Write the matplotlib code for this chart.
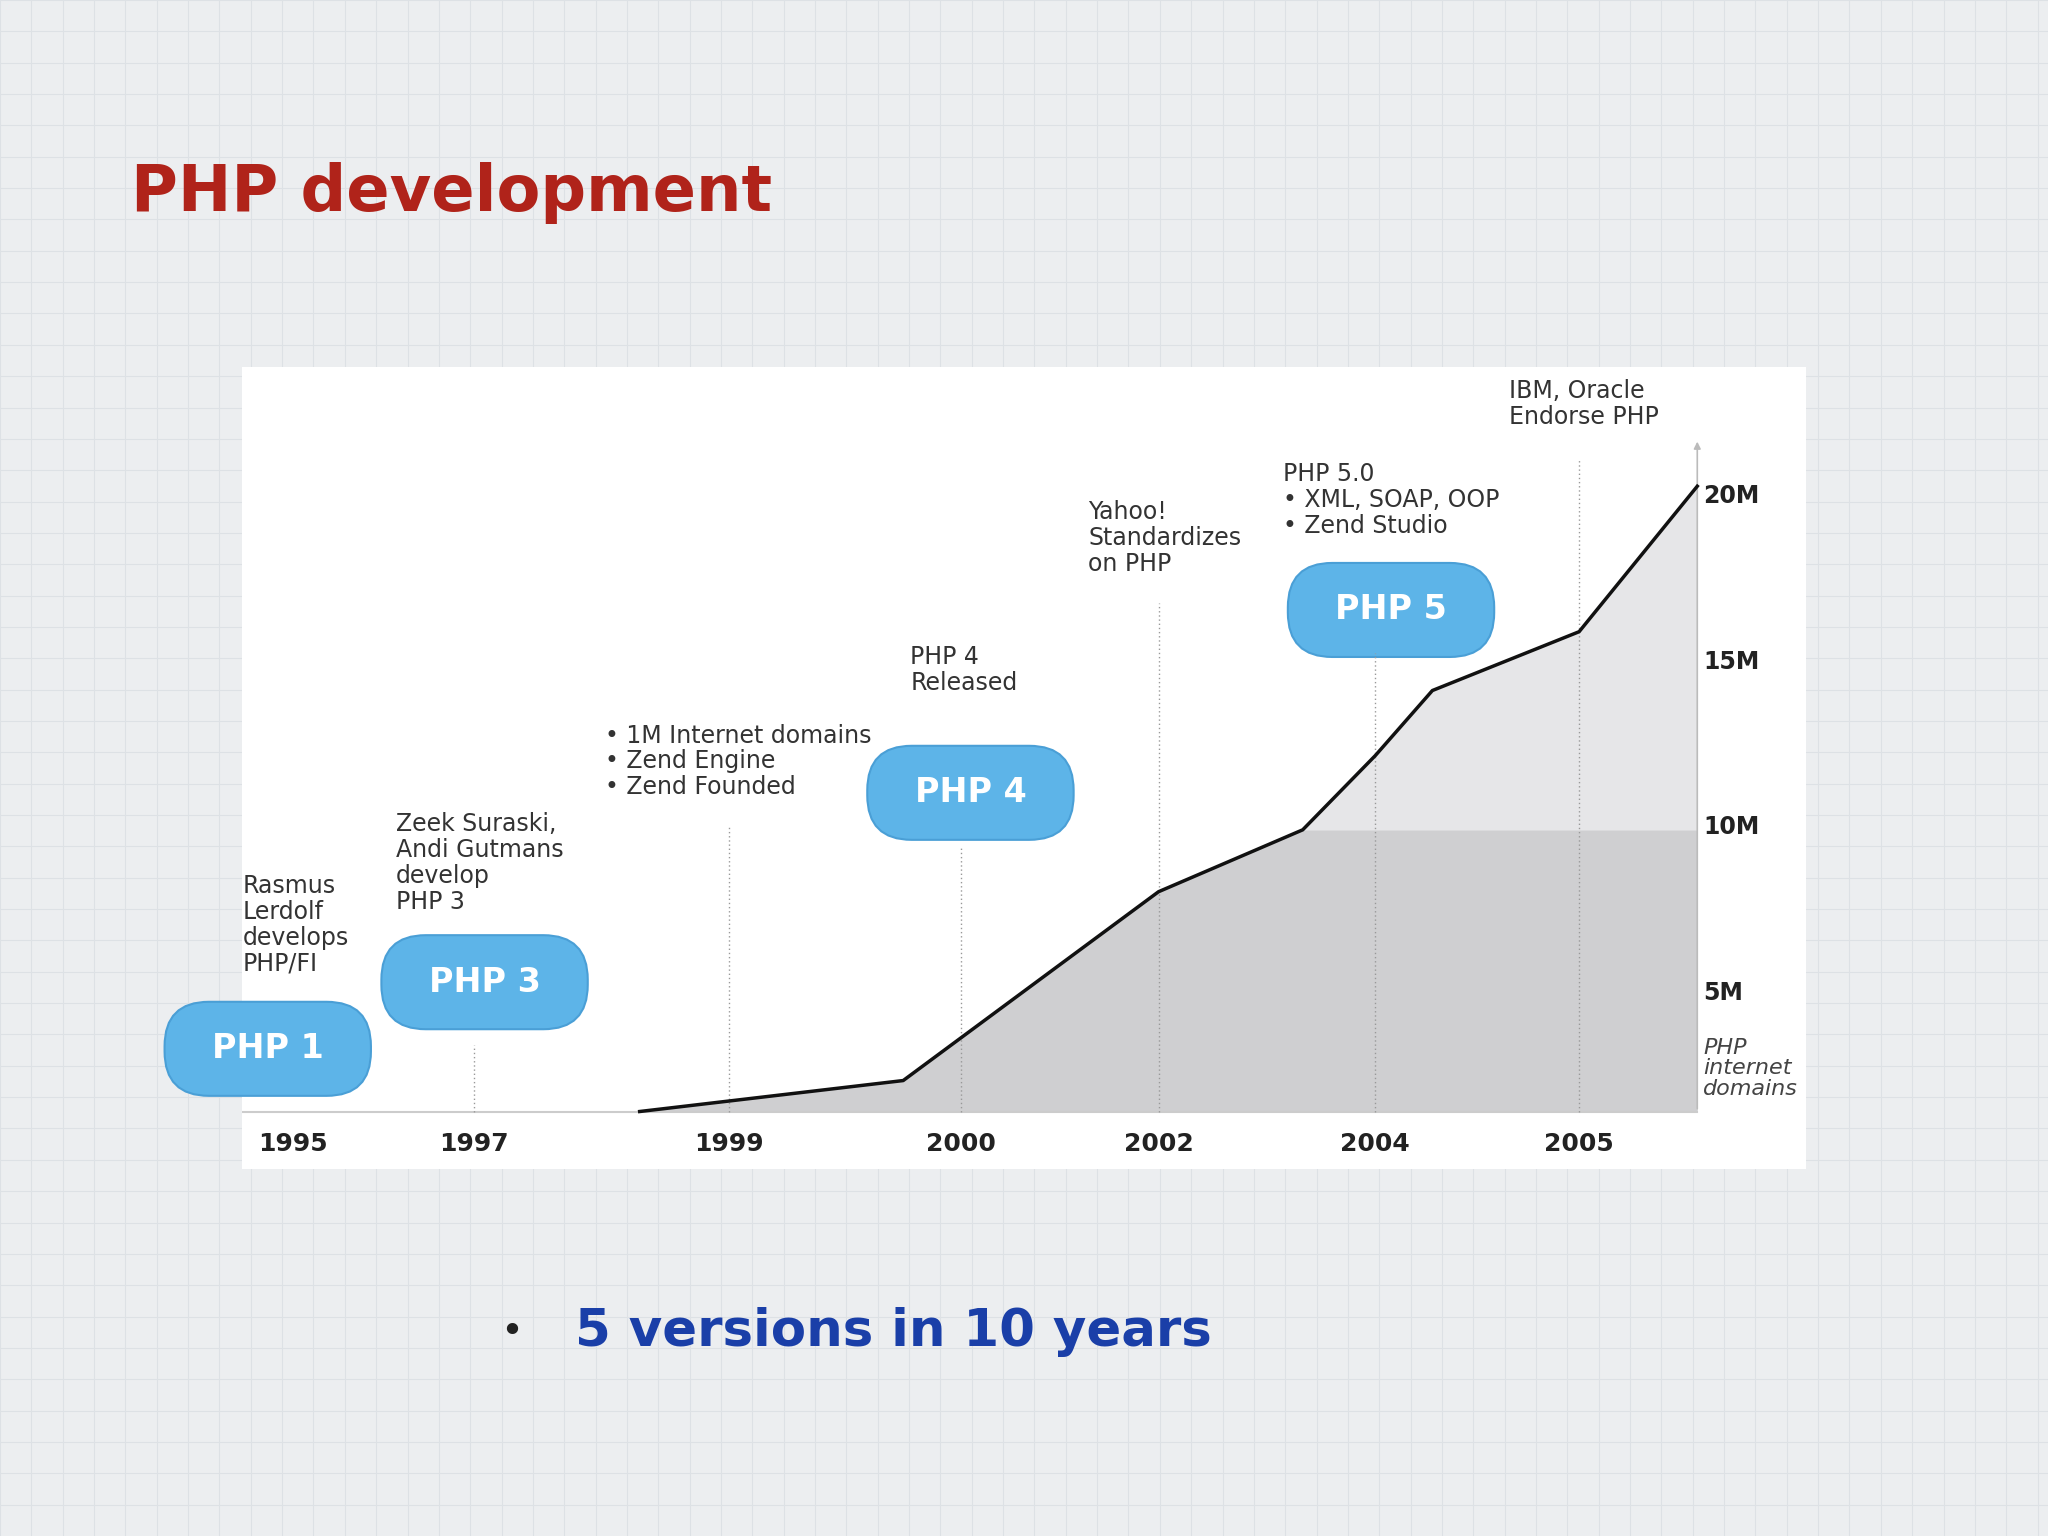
import numpy as np
import matplotlib
matplotlib.use("Agg")
import matplotlib.pyplot as plt
from matplotlib.patches import FancyBboxPatch, Rectangle

# ---- data ----
tick_years = [1995, 1997, 1999, 2000, 2002, 2004, 2005]
tick_labels = ["1995", "1997", "1999", "2000", "2002", "2004", "2005"]
line_years = [1998.3, 1999.75, 2002.0, 2003.33, 2004.0, 2004.28, 2005.0, 2005.58]
domains_m = [0.0, 1.0, 7.1, 9.1, 11.5, 13.6, 15.5, 20.2]
ytick_vals = [5, 10, 15, 20]
ytick_labels = ["5M", "10M", "15M", "20M"]
versions = ["PHP 1", "PHP 3", "PHP 4", "PHP 5"]
events = ["Rasmus\nLerdolf\ndevelops\nPHP/FI",
          "Zeek Suraski,\nAndi Gutmans\ndevelop\nPHP 3",
          "• 1M Internet domains\n• Zend Engine\n• Zend Founded",
          "PHP 4\nReleased",
          "Yahoo!\nStandardizes\non PHP",
          "PHP 5.0\n• XML, SOAP, OOP\n• Zend Studio",
          "IBM, Oracle\nEndorse PHP"]

# ---- layout (reference coordinates on a 1568x1176 canvas) ----
W, H = 1568, 1176
tick_pos = [224, 363, 558, 736, 887, 1053, 1209]
def xpos(years):
    years = np.asarray(years, float)
    slope = (tick_pos[-1] - tick_pos[-2]) / (tick_years[-1] - tick_years[-2])
    out = np.interp(years, tick_years, tick_pos)
    out = np.where(years > tick_years[-1], tick_pos[-1] + (years - tick_years[-1]) * slope, out)
    return out
base_px, px_per_m = 851, 23.7
def ypx(v): return base_px - np.asarray(v) * px_per_m
def ylab(v): return 889 - 25.35 * v

fig = plt.figure(figsize=(20.48, 15.36), dpi=100)
fig.patch.set_facecolor("#eceef0")

bg = fig.add_axes([0, 0, 1, 1]); bg.set_xlim(0, W); bg.set_ylim(H, 0); bg.axis("off")
for g in np.arange(0, W, 24):
    bg.axvline(g, color="#dde1e5", lw=0.8, zorder=0)
for g in np.arange(0, H, 24):
    bg.axhline(g, color="#dde1e5", lw=0.8, zorder=0)

bg.text(100, 148, "PHP development", color="#b0231a", fontsize=46, fontweight="bold",
        va="center", ha="left")
bg.text(383, 1020, "•", color="#222222", fontsize=28, va="center")
bg.text(440, 1020, "5 versions in 10 years", color="#1a3fa8", fontsize=37,
        fontweight="bold", va="center", ha="left")

L, R, T, B = 185, 1383, 281, 895
bg.add_patch(Rectangle((L, T), R - L, B - T, fc="white", ec="none", zorder=0.5))
ax = fig.add_axes([L / W, 1 - B / H, (R - L) / W, (B - T) / H])
ax.set_xlim(L, R); ax.set_ylim(B, T)
ax.axis("off")

lx = xpos(line_years); ly = ypx(domains_m)
top10 = ylab(10)
ax.fill_between(lx, ly, base_px, color="#cfcfd1", lw=0, zorder=1)
ax.fill_between(lx, ly, np.maximum(ly, top10), where=lx >= xpos(2003.33) - 1,
                color="#e6e6e8", lw=0, zorder=1.5)
ax.plot(lx, ly, color="#111111", lw=2.5, zorder=3)
ax.plot([L, xpos(2005.58)], [base_px, base_px], color="#cccccc", lw=1.5, zorder=2)
axis_x = xpos(2005.58)
ax.annotate("", xy=(axis_x, 336), xytext=(axis_x, base_px),
            arrowprops=dict(arrowstyle="-|>", color="#bbbbbb", lw=1.2), zorder=2)

tops = [None, 800, 632, 648, 462, 500, 352]
for i, (tp, lab) in enumerate(zip(tick_pos, tick_labels)):
    ax.text(tp, 876, lab, ha="center", va="center", fontsize=18, fontweight="bold",
            color="#222222")
    if tops[i] is not None:
        ax.plot([tp, tp], [base_px, tops[i]], color="#999999", lw=1, ls=(0, (1, 2)), zorder=2)

for v, lab in zip(ytick_vals, ytick_labels):
    ax.text(1304, ylab(v) - 2, lab, ha="left", va="center",
            fontsize=17, fontweight="bold", color="#222222")
ax.text(1304, 818, "PHP\ninternet\ndomains", ha="left", va="center", fontsize=16,
        style="italic", color="#444444", linespacing=1.05)

ev_pos = [(186, 708), (303, 661), (463, 583), (697, 513),
          (833, 412), (982, 383), (1155, 309)]
for txt, (x, y) in zip(events, ev_pos):
    ax.text(x, y, txt, ha="left", va="center", fontsize=17, color="#333333",
            linespacing=1.1)

pills = [(205, 803), (371, 752), (743, 607), (1065, 467)]
for name, (cx, cy) in zip(versions, pills):
    w, h = 158, 72
    pad = 4
    p = FancyBboxPatch((cx - w / 2 + pad, cy - h / 2 + pad), w - 2 * pad, h - 2 * pad,
                       boxstyle=f"round,pad={pad},rounding_size=34", fc="#5db4e8",
                       ec="#4a9fd6", lw=1.5, zorder=5, clip_on=False)
    bg.add_patch(p)
    bg.text(cx, cy, name, ha="center", va="center", color="white", fontsize=24,
            fontweight="bold", zorder=6)

fig.savefig("out.png", dpi=100, facecolor=fig.get_facecolor())
